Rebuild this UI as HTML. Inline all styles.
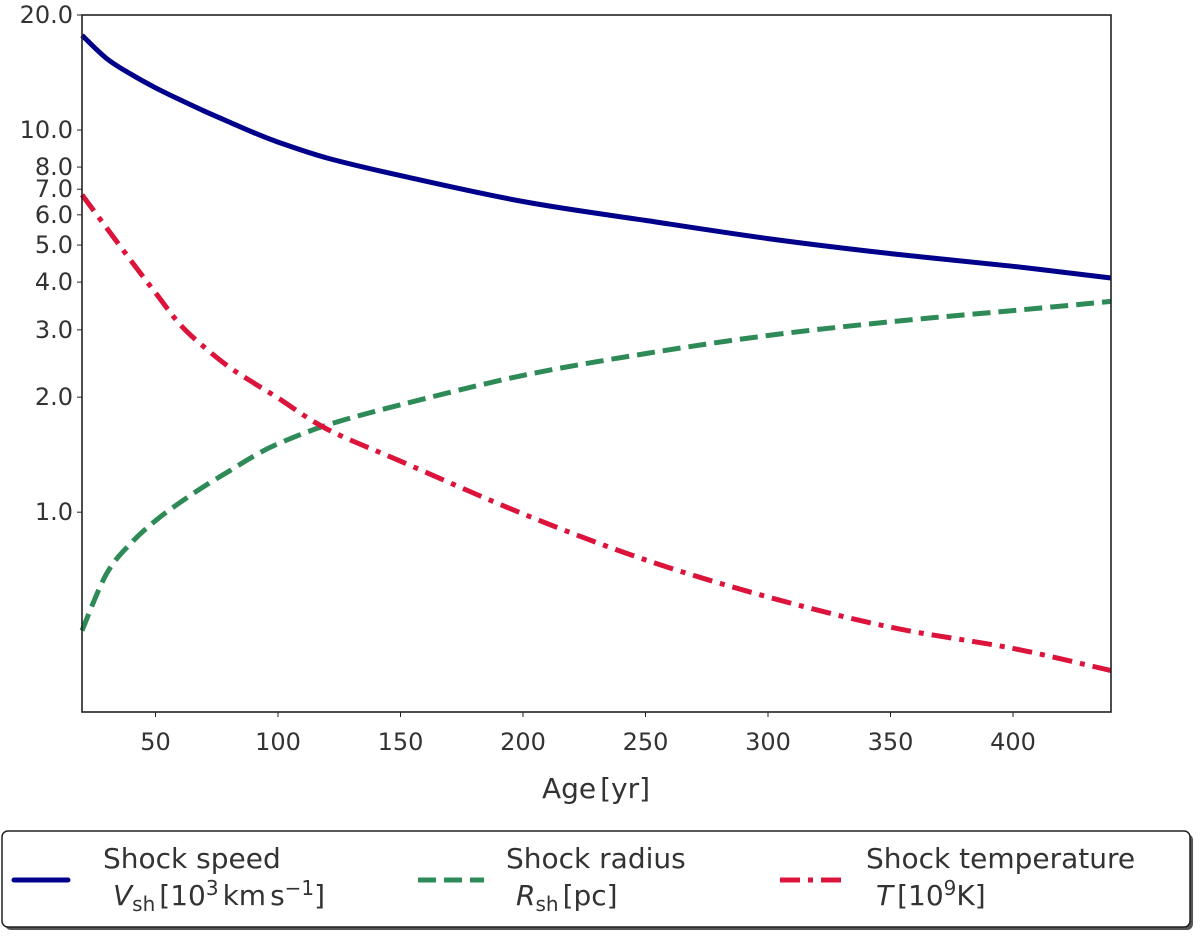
<!DOCTYPE html>
<html><head><meta charset="utf-8"><style>
html,body{margin:0;padding:0;background:#fff;width:1200px;height:936px;overflow:hidden}
svg text{font-family:"DejaVu Sans","Liberation Sans",sans-serif;fill:#333}
</style></head><body>
<svg id="chart" width="1200" height="936" viewBox="0 0 1200 936" xmlns="http://www.w3.org/2000/svg">
<g id="series"></g>
<rect x="82" y="15" width="1029" height="697" fill="none" stroke="#222" stroke-width="1.6"/>
<g id="axes"></g>
<text x="596" y="798" font-size="28" text-anchor="middle">Age<tspan dx="4">[yr]</tspan></text>
<g>
<rect x="5" y="834" width="1188" height="96" rx="6" fill="#555"/>
<rect x="2" y="831" width="1188" height="96" rx="6" fill="#fff" stroke="#222" stroke-width="1.5"/>
<g>
<line x1="14" y1="880" x2="68" y2="880" stroke="#00008b" stroke-width="5" stroke-linecap="round"/>
<text x="103" y="868" font-size="28">Shock speed</text>
<text x="113" y="905" font-size="28"><tspan font-style="italic">V</tspan><tspan font-size="20" dy="6">sh</tspan><tspan dy="-6" dx="4">[10</tspan><tspan font-size="20" dy="-10">3</tspan><tspan dy="10" dx="4">km</tspan><tspan dx="4">s</tspan><tspan font-size="20" dy="-10">−1</tspan><tspan dy="10">]</tspan></text>
</g>
<g>
<line x1="418" y1="880" x2="484" y2="880" stroke="#2e8b57" stroke-width="5" stroke-dasharray="18,8"/>
<text x="506" y="868" font-size="28">Shock radius</text>
<text x="516" y="905" font-size="28"><tspan font-style="italic">R</tspan><tspan font-size="20" dy="6">sh</tspan><tspan dy="-6" dx="4">[pc]</tspan></text>
</g>
<g>
<line x1="780" y1="880" x2="846" y2="880" stroke="#dc143c" stroke-width="5" stroke-dasharray="20,8,5,8"/>
<text x="866" y="868" font-size="28">Shock temperature</text>
<text x="876" y="905" font-size="28"><tspan font-style="italic">T</tspan><tspan dx="4">[10</tspan><tspan font-size="20" dy="-10">9</tspan><tspan dy="10">K]</tspan></text>
</g>
</g>
</svg>
<script>
const ages = [20,30,40,50,60,70,80,90,100,120,150,200,250,300,350,400,440];
const speed = [17.7,15.4,14.0,12.9,12.0,11.2,10.5,9.85,9.3,8.45,7.6,6.5,5.8,5.2,4.75,4.4,4.1];
const radius = [0.49,0.69,0.83,0.95,1.06,1.17,1.28,1.40,1.51,1.69,1.91,2.28,2.6,2.9,3.15,3.37,3.56];
const temperature = [6.77,5.55,4.55,3.75,3.1,2.7,2.4,2.18,1.99,1.65,1.36,0.99,0.75,0.60,0.50,0.44,0.385];
const xTicks = [50,100,150,200,250,300,350,400];
const yTicks = [1,2,3,4,5,6,7,8,10,20];
const yTickLabels = ["1.0","2.0","3.0","4.0","5.0","6.0","7.0","8.0","10.0","20.0"];
const X0=82,X1=1111,Y0=712,Y1=15,xmin=20,xmax=440,ymin=0.3,ymax=20;
const NS="http://www.w3.org/2000/svg";
function xs(v){return X0+(v-xmin)/(xmax-xmin)*(X1-X0);}
function ys(v){return Y0-(Math.log10(v)-Math.log10(ymin))/(Math.log10(ymax)-Math.log10(ymin))*(Y0-Y1);}
const axes=document.getElementById('axes');
xTicks.forEach(t=>{
  const l=document.createElementNS(NS,'line');
  l.setAttribute('x1',xs(t));l.setAttribute('x2',xs(t));l.setAttribute('y1',Y0);l.setAttribute('y2',Y0+5);l.setAttribute('stroke','#222');
  
  
  axes.appendChild(l);
  const tx=document.createElementNS(NS,'text');
  tx.setAttribute('x',xs(t));tx.setAttribute('y',Y0+38);tx.setAttribute('font-size','24');tx.setAttribute('text-anchor','middle');
  tx.textContent=t;
  
  
  axes.appendChild(tx);
});
yTicks.forEach((t,i)=>{
  const l=document.createElementNS(NS,'line');
  l.setAttribute('x1',X0-5);l.setAttribute('x2',X0);l.setAttribute('y1',ys(t));l.setAttribute('y2',ys(t));l.setAttribute('stroke','#222');
  
  
  axes.appendChild(l);
  const tx=document.createElementNS(NS,'text');
  tx.setAttribute('x',X0-9);tx.setAttribute('y',ys(t)+8);tx.setAttribute('font-size','24');tx.setAttribute('text-anchor','end');
  tx.textContent=yTickLabels[i];
  
  
  axes.appendChild(tx);
});
function path(vals,color,dash,name){
  const pts=vals.map((v,i)=>[xs(ages[i]),ys(v)]);
  let d='M'+pts[0][0].toFixed(1)+','+pts[0][1].toFixed(1);
  for(let i=0;i<pts.length-1;i++){
    const p0=pts[Math.max(i-1,0)],p1=pts[i],p2=pts[i+1],p3=pts[Math.min(i+2,pts.length-1)];
    const c1=[p1[0]+(p2[0]-p0[0])/6,p1[1]+(p2[1]-p0[1])/6];
    const c2=[p2[0]-(p3[0]-p1[0])/6,p2[1]-(p3[1]-p1[1])/6];
    d+='C'+c1.map(n=>n.toFixed(1)).join(',')+' '+c2.map(n=>n.toFixed(1)).join(',')+' '+p2.map(n=>n.toFixed(1)).join(',');
  }
  const p=document.createElementNS(NS,'path');
  p.setAttribute('d',d);
  p.setAttribute('fill','none');p.setAttribute('stroke',color);p.setAttribute('stroke-width','5');
  p.setAttribute('stroke-linejoin','round');
  if(dash)p.setAttribute('stroke-dasharray',dash);
  
  
  document.getElementById('series').appendChild(p);
}
path(speed,'#00008b',null,'shock-speed-line');
path(radius,'#2e8b57','18,8','shock-radius-line');
path(temperature,'#dc143c','20,8,5,8','shock-temperature-line');
</script>
</body></html>
